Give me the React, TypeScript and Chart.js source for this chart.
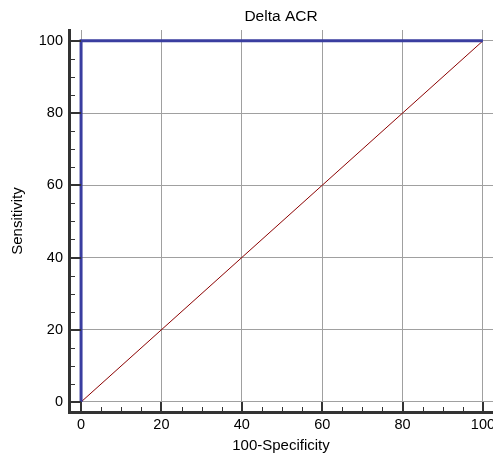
import React, { useEffect, useRef } from "react";
import { Chart, registerables } from "chart.js";

Chart.register(...registerables);

const chartTitle = "Delta ACR";
const xTitle = "100-Specificity";
const yTitle = "Sensitivity";
const rocX = [0, 0, 100];
const rocY = [0, 100, 100];
const diagX = [0, 100];
const diagY = [0, 100];
const tickValues = [0, 5, 10, 15, 20, 25, 30, 35, 40, 45, 50, 55, 60, 65, 70, 75, 80, 85, 90, 95, 100];
const majorStep = 20;

const FONT = "Arial, 'Liberation Sans', sans-serif";

const axisPlugin = {
  id: "offsetAxes",
  afterDatasetsDraw(chart: any) {
    const { ctx, chartArea, scales } = chart;
    const xs = scales.x;
    const ys = scales.y;
    const left = chartArea.left;
    const bottom = chartArea.bottom;
    ctx.save();
    ctx.strokeStyle = "#333333";
    ctx.lineWidth = 3;
    ctx.beginPath();
    ctx.moveTo(left + 0.5, chartArea.top - 1);
    ctx.lineTo(left + 0.5, bottom + 1.5);
    ctx.moveTo(left - 1, bottom + 0.5);
    ctx.lineTo(chartArea.right, bottom + 0.5);
    ctx.stroke();
    const x0 = xs.getPixelForValue(0);
    const y0 = ys.getPixelForValue(0);
    tickValues.forEach((v) => {
      const major = v % majorStep === 0;
      ctx.lineWidth = major ? 2 : 1;
      const px = Math.round(xs.getPixelForValue(v)) + (major ? 0 : 0.5);
      ctx.beginPath();
      ctx.moveTo(px, bottom);
      ctx.lineTo(px, major ? y0 : bottom - 5);
      ctx.stroke();
      const py = Math.round(ys.getPixelForValue(v)) + (major ? 0 : 0.5);
      ctx.beginPath();
      ctx.moveTo(left, py);
      ctx.lineTo(major ? x0 : left + 6, py);
      ctx.stroke();
    });
    ctx.restore();
  },
};

const gridColor = (c: any) =>
  c.tick && c.tick.value % majorStep === 0 ? "#a0a0a0" : "rgba(0,0,0,0)";

export default function App() {
  const ref = useRef<HTMLCanvasElement>(null);
  useEffect(() => {
    document.body.style.margin = "0";
    const chart = new Chart(ref.current as HTMLCanvasElement, {
      type: "scatter",
      data: {
        datasets: [
          {
            data: diagX.map((x, i) => ({ x, y: diagY[i] })),
            showLine: true,
            borderColor: "#8b0000",
            borderWidth: 1,
            pointRadius: 0,
            order: 2,
          },
          {
            data: rocX.map((x, i) => ({ x, y: rocY[i] })),
            showLine: true,
            borderColor: "#3a3ea0",
            borderWidth: 3,
            pointRadius: 0,
            order: 1,
          },
        ],
      },
      options: {
        responsive: false,
        animation: false,
        layout: { padding: { left: 0, right: 27, top: 0, bottom: 0 } },
        plugins: {
          legend: { display: false },
          tooltip: { enabled: false },
          title: {
            display: true,
            text: chartTitle,
            fullSize: false,
            color: "#000",
            font: { family: FONT, size: 15.5, weight: "normal", lineHeight: 1.2 },
            padding: { top: 7, bottom: 4.4 },
          },
        },
        scales: {
          x: {
            type: "linear",
            min: -3,
            max: 102.5,
            afterBuildTicks: (s: any) => {
              s.ticks = tickValues.map((v) => ({ value: v }));
            },
            afterFit: (s: any) => {
              s.height = 43;
            },
            ticks: {
              autoSkip: false,
              maxRotation: 0,
              padding: 4,
              color: "#000",
              font: { family: FONT, size: 14.5 },
              callback: (v: any) => (Number(v) % majorStep === 0 ? String(v) : ""),
            },
            grid: { color: gridColor, drawTicks: false, lineWidth: 1 },
            border: { display: false },
            title: {
              display: true,
              text: xTitle,
              color: "#000",
              font: { family: FONT, size: 15, lineHeight: 1.2 },
              padding: { top: 0, bottom: 0 },
            },
          },
          y: {
            type: "linear",
            min: -2.77,
            max: 103,
            afterBuildTicks: (s: any) => {
              s.ticks = tickValues.map((v) => ({ value: v }));
            },
            afterFit: (s: any) => {
              s.width = 69;
            },
            ticks: {
              autoSkip: false,
              padding: 6,
              color: "#000",
              font: { family: FONT, size: 14.5 },
              callback: (v: any) => (Number(v) % majorStep === 0 ? String(v) : ""),
            },
            grid: { color: gridColor, drawTicks: false, lineWidth: 1 },
            border: { display: false },
            title: {
              display: true,
              text: yTitle,
              color: "#000",
              font: { family: FONT, size: 15, lineHeight: 1.2 },
              padding: { top: 9, bottom: 0 },
            },
          },
        },
      },
      plugins: [axisPlugin],
    } as any);
    return () => chart.destroy();
  }, []);
  return (
    <div
      style={{
        position: "absolute",
        left: 0,
        top: 0,
        width: 493,
        height: 455,
        overflow: "hidden",
        background: "#fff",
      }}
    >
      <canvas ref={ref} width={520} height={455} style={{ display: "block" }} />
    </div>
  );
}
